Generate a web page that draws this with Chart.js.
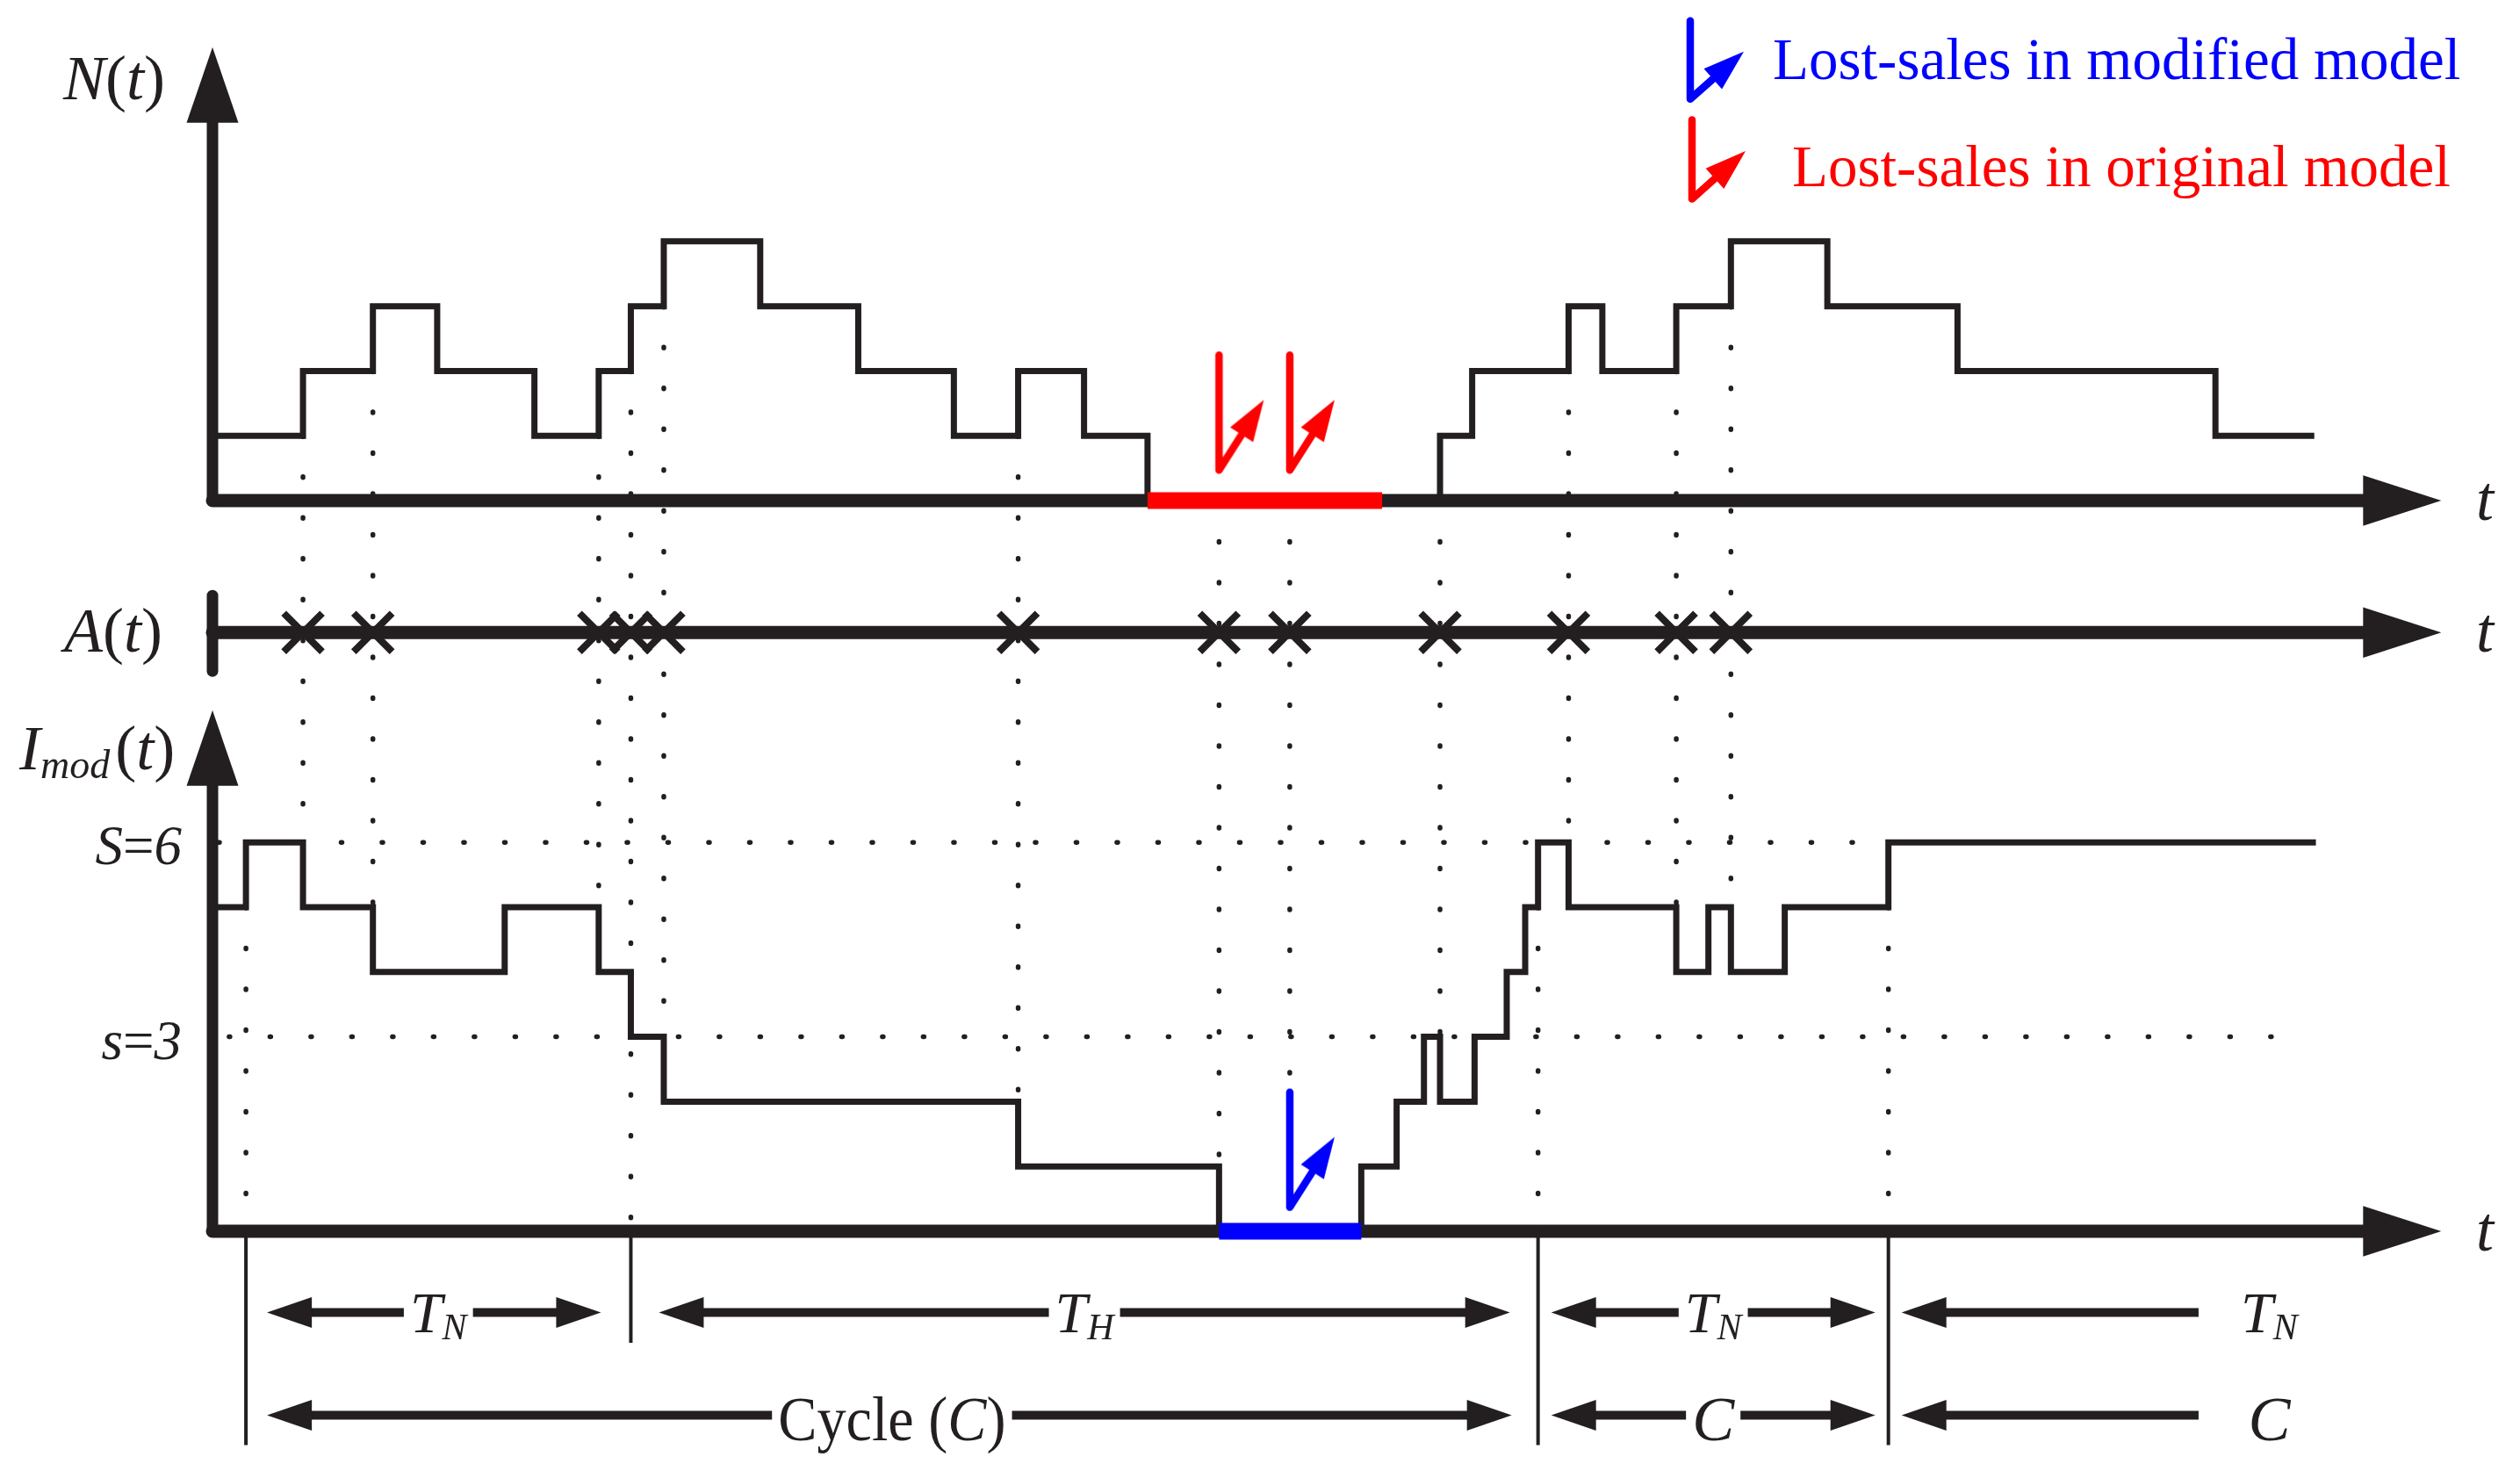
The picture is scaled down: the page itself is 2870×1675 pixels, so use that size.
<!DOCTYPE html>
<html>
<head>
<meta charset="utf-8">
<script src="https://cdn.jsdelivr.net/npm/chart.js@4.4.1/dist/chart.umd.min.js"></script>
<style>
  html, body { margin: 0; padding: 0; background: #fff; }
  #wrap { width: 2870px; height: 1675px; position: relative; }
</style>
</head>
<body>
<div id="wrap"><canvas id="diagrama"></canvas></div>
<script>
// N(t): instantes de cambio y nivel nuevo
const nTimes = [0, 5.85, 10.2, 14.2, 20.25, 24.25, 26.25, 28.3, 34.3, 40.4, 46.35, 50.35, 54.45, 58.4, 76.6, 78.6, 84.6, 86.7, 91.3, 94.7, 100.7, 108.8, 124.85, 131.0];
const nLevels = [1, 2, 3, 2, 1, 2, 3, 4, 3, 2, 1, 2, 1, 0, 1, 2, 3, 2, 3, 4, 3, 2, 1, 1];

// A(t): llegadas de demanda
const arrivals = [5.85, 10.2, 24.25, 26.25, 28.3, 50.35, 62.85, 67.25, 76.6, 84.6, 91.3, 94.7];

// I_mod(t): inventario del modelo modificado
const iTimes = [0, 2.3, 5.85, 10.2, 18.4, 24.25, 26.25, 28.3, 50.35, 62.85, 71.7, 73.9, 75.6, 76.6, 78.75, 80.75, 81.9, 82.7, 84.6, 91.3, 93.3, 94.7, 98.05, 104.5, 131.1];
const iLevels = [5, 6, 5, 4, 5, 4, 3, 2, 1, 0, 1, 2, 3, 2, 3, 4, 5, 6, 5, 4, 5, 4, 5, 6, 6];

// ventas perdidas y periodos sin stock
const lostOriginal = [62.85, 67.25];
const lostModified = [67.25];
const stockoutOrig = [58.4, 73.0];
const stockoutMod = [62.85, 71.7];

// politica (s, S) y limites de ciclo
const sLevel = 3;
const SLevel = 6;
const cycleBounds = [2.3, 82.7, 104.5];
const phaseBounds = [26.25];
const phaseSubs = ['N', 'H', 'N', 'N'];

// colocacion de los paneles (unidades del eje y)
const N_BASE = 11.275;
const A_BASE = 9.24;
const ROW_T = -1.253;
const ROW_C = -2.84;

const INK = '#231f20';
const RED = '#ff0000';
const BLUE = '#0000ff';
const SERIF = '"Liberation Serif", "Times New Roman", serif';

function levelBefore(times, levels, t) {
    let lv = levels[0];
    for (let i = 0; i < times.length; i++) {
        if (times[i] < t - 1e-9) lv = levels[i];
    }
    return lv;
}

// icono de venta perdida (linea vertical + flecha)
function drawLostIcon(ctx, cx, cy, color, vLen, dx, dy) {
    const lw = 8.5, headLen = 47, halfW = 15.5;
    const len = Math.hypot(dx, dy), ux = dx / len, uy = dy / len, nx = -uy, ny = ux;
    const tx = cx + dx, ty = cy + dy;
    const bx = tx - ux * headLen, by = ty - uy * headLen;
    ctx.save();
    ctx.strokeStyle = color;
    ctx.fillStyle = color;
    ctx.lineWidth = lw;
    ctx.lineCap = 'round';
    ctx.lineJoin = 'round';
    ctx.beginPath();
    ctx.moveTo(cx, cy - vLen);
    ctx.lineTo(cx, cy);
    ctx.lineTo(bx + ux * 6, by + uy * 6);
    ctx.stroke();
    ctx.beginPath();
    ctx.moveTo(tx, ty);
    ctx.lineTo(bx + nx * halfW, by + ny * halfW);
    ctx.lineTo(bx - nx * halfW, by - ny * halfW);
    ctx.closePath();
    ctx.fill();
    ctx.restore();
}

function makeLostIcon(color) {
    const c = document.createElement('canvas');
    c.width = 180;
    c.height = 290;
    drawLostIcon(c.getContext('2d'), 90, 145, color, 131, 51, -80);
    return c;
}

function richWidth(ctx, parts) {
    let w = 0;
    parts.forEach(p => {
        ctx.font = p.f;
        w += ctx.measureText(p.t).width * (p.sx || 1) + (p.gap || 0);
    });
    return w;
}

function drawRich(ctx, x, base, parts) {
    parts.forEach(p => {
        ctx.font = p.f;
        const w = ctx.measureText(p.t).width * (p.sx || 1);
        ctx.save();
        ctx.translate(x, base + (p.dy || 0));
        ctx.scale(p.sx || 1, 1);
        ctx.fillText(p.t, 0, 0);
        ctx.restore();
        x += w + (p.gap || 0);
    });
    return x;
}

function triangle(ctx, tipX, tipY, baseX, baseY, half) {
    const len = Math.hypot(tipX - baseX, tipY - baseY);
    const nx = -(tipY - baseY) / len, ny = (tipX - baseX) / len;
    ctx.beginPath();
    ctx.moveTo(tipX, tipY);
    ctx.lineTo(baseX + nx * half, baseY + ny * half);
    ctx.lineTo(baseX - nx * half, baseY - ny * half);
    ctx.closePath();
    ctx.fill();
}

document.addEventListener('DOMContentLoaded', () => {
    const canvas = document.getElementById('diagrama');
    const ctx = canvas.getContext('2d');
    if (!ctx) {
        console.error('No se pudo obtener el contexto del canvas');
        return;
    }

    const it = s => 'italic ' + s + 'px ' + SERIF;
    const up = s => s + 'px ' + SERIF;

    // lineas guia punteadas: de N(t) a I(t) en cada llegada
    const blueTop = 0.37 + 131 / 73.79;
    const guidePts = [];
    arrivals.forEach(t => {
        const nl = levelBefore(nTimes, nLevels, t);
        const il = levelBefore(iTimes, iLevels, t);
        guidePts.push({ x: t, y: N_BASE + nl }, { x: t, y: il > 0 ? il : blueTop }, { x: t, y: null });
    });
    cycleBounds.concat(phaseBounds).forEach(t => {
        guidePts.push({ x: t, y: levelBefore(iTimes, iLevels, t) }, { x: t, y: 0 }, { x: t, y: null });
    });

    // limites solidos bajo el eje
    const boundPts = [];
    cycleBounds.forEach(t => boundPts.push({ x: t, y: 0 }, { x: t, y: -3.3 }, { x: t, y: null }));
    phaseBounds.forEach(t => boundPts.push({ x: t, y: 0 }, { x: t, y: -1.72 }, { x: t, y: null }));

    const dotted = { borderColor: INK, borderWidth: 5.5, borderDash: [1, 45.5], borderCapStyle: 'round', pointRadius: 0, order: 10 };

    const datasets = [
        Object.assign({ label: 'guias', data: guidePts }, dotted),
        Object.assign({ label: 'S', data: [{ x: 0.6, y: SLevel }, { x: cycleBounds[2], y: SLevel }] }, dotted),
        Object.assign({ label: 's', data: [{ x: 1.25, y: sLevel }, { x: 129, y: sLevel }] }, dotted),
        { label: 'limites', data: boundPts, borderColor: INK, borderWidth: 4, pointRadius: 0, order: 9 },
        {
            label: 'N(t)', data: nTimes.map((t, i) => ({ x: t, y: N_BASE + nLevels[i] })),
            stepped: true, borderColor: INK, borderWidth: 7, borderJoinStyle: 'miter', pointRadius: 0, order: 5
        },
        {
            label: 'I(t)', data: iTimes.map((t, i) => ({ x: t, y: iLevels[i] })),
            stepped: true, borderColor: INK, borderWidth: 7, borderJoinStyle: 'miter', pointRadius: 0, order: 5
        },
        { label: 'sin stock original', data: stockoutOrig.map(t => ({ x: t, y: N_BASE })), borderColor: RED, borderWidth: 19, pointRadius: 0, order: 4 },
        { label: 'sin stock modificado', data: stockoutMod.map(t => ({ x: t, y: 0 })), borderColor: BLUE, borderWidth: 19, pointRadius: 0, order: 4 },
        {
            label: 'A(t)', data: arrivals.map(t => ({ x: t, y: A_BASE })), showLine: false,
            pointStyle: 'crossRot', pointRadius: 31, pointBorderWidth: 8, pointBorderColor: INK, pointBackgroundColor: INK, order: 3
        },
        {
            label: 'perdidas original', data: lostOriginal.map(t => ({ x: t, y: N_BASE + 0.47 })), showLine: false,
            pointStyle: makeLostIcon(RED), pointRadius: 10, order: 2
        },
        {
            label: 'perdidas modificado', data: lostModified.map(t => ({ x: t, y: 0.37 })), showLine: false,
            pointStyle: makeLostIcon(BLUE), pointRadius: 10, order: 2
        }
    ];

    const diagramPlugin = {
        id: 'diagrama',
        beforeDatasetsDraw(chart) {
            const c = chart.ctx;
            const x = chart.scales.x, y = chart.scales.y;
            const x0 = x.getPixelForValue(0) + 4;
            const xTip = x.getPixelForValue(138.9);
            c.save();
            c.strokeStyle = INK;
            c.fillStyle = INK;
            // ejes horizontales con flecha
            [N_BASE, A_BASE, 0].forEach(v => {
                const yy = y.getPixelForValue(v);
                c.lineWidth = 15;
                c.lineCap = 'round';
                c.beginPath();
                c.moveTo(x0, yy);
                c.lineTo(xTip - 80, yy);
                c.stroke();
                triangle(c, xTip, yy, xTip - 89, yy, 28.7);
            });
            // ejes verticales
            [[N_BASE, 18.27], [0, 8.04]].forEach(([b, top]) => {
                const yb = y.getPixelForValue(b), yt = y.getPixelForValue(top);
                c.lineWidth = 13;
                c.beginPath();
                c.moveTo(x0, yb);
                c.lineTo(x0, yt + 80);
                c.stroke();
                triangle(c, x0, yt, x0, yt + 86, 29.5);
            });
            // marca izquierda de A(t)
            const ya = y.getPixelForValue(A_BASE);
            c.lineWidth = 13;
            c.beginPath();
            c.moveTo(x0, ya - 42);
            c.lineTo(x0, ya + 44);
            c.stroke();
            c.restore();
        },
        afterDatasetsDraw(chart) {
            const c = chart.ctx;
            const x = chart.scales.x, y = chart.scales.y;
            c.save();
            c.fillStyle = INK;
            c.strokeStyle = INK;
            c.textBaseline = 'alphabetic';
            c.textAlign = 'left';

            // etiquetas de los ejes
            drawRich(c, 72, 113, [{ t: 'N', f: it(72) }, { t: '(', f: up(72) }, { t: 't', f: it(72) }, { t: ')', f: up(72) }]);
            drawRich(c, 73, 742, [{ t: 'A', f: it(72) }, { t: '(', f: up(72) }, { t: 't', f: it(72) }, { t: ')', f: up(72) }]);
            drawRich(c, 22, 876, [{ t: 'I', f: it(72) }, { t: 'mod', f: it(46), dy: 10, gap: 6 }, { t: '(', f: up(72) }, { t: 't', f: it(72) }, { t: ')', f: up(72) }]);
            [[SLevel, 'S', String(SLevel)], [sLevel, 's', String(sLevel)]].forEach(([v, a, b]) => {
                const parts = [{ t: a, f: it(63) }, { t: '=', f: up(63) }, { t: b, f: it(63) }];
                drawRich(c, 207 - richWidth(c, parts), y.getPixelForValue(v) + 25, parts);
            });
            [N_BASE, A_BASE, 0].forEach(v => {
                c.font = it(72);
                c.fillText('t', 2820, y.getPixelForValue(v) + 22);
            });

            // leyenda
            drawLostIcon(c, 1925, 112.8, BLUE, 89, 61, -54);
            drawLostIcon(c, 1927, 226.6, RED, 90, 61, -54.6);
            c.font = up(67);
            c.fillStyle = BLUE;
            c.fillText('Lost-sales in modified model', 2019, 90);
            c.fillStyle = RED;
            c.fillText('Lost-sales in original model', 2041, 211.5);
            c.fillStyle = INK;

            // flechas de duracion (T_N, T_H, ciclo)
            const allB = cycleBounds.concat(phaseBounds).sort((a, b) => a - b);
            const openEnd = 123.8, openLabel = 128.2;
            const spanArrow = (ta, tb, v, parts, labelT) => {
                const yy = y.getPixelForValue(v);
                const inset = ta < 20 ? 30 : (ta < 80 ? 32 : 15);
                const xa = x.getPixelForValue(ta) + (ta < 20 ? 24 : inset);
                const rightHead = tb !== null;
                const xb = rightHead ? x.getPixelForValue(tb) - (tb < 80 ? 34 : inset) : x.getPixelForValue(openEnd);
                c.lineWidth = 10;
                c.lineCap = 'butt';
                c.beginPath();
                c.moveTo(xa + 45, yy);
                c.lineTo(rightHead ? xb - 45 : xb, yy);
                c.stroke();
                triangle(c, xa, yy, xa + 51, yy, 17.5);
                if (rightHead) triangle(c, xb, yy, xb - 51, yy, 17.5);
                const cx = labelT !== undefined ? x.getPixelForValue(labelT) : (x.getPixelForValue(ta) + x.getPixelForValue(tb)) / 2;
                const w = richWidth(c, parts);
                c.fillStyle = '#fff';
                c.fillRect(cx - w / 2 - 7, yy - 8, w + 14, 16);
                c.fillStyle = INK;
                return [cx - w / 2, yy];
            };
            for (let i = 0; i < allB.length; i++) {
                const tb = i + 1 < allB.length ? allB[i + 1] : null;
                const parts = [{ t: 'T', f: it(66) }, { t: phaseSubs[i], f: it(42), dy: 8 }];
                const [lx, yy] = spanArrow(allB[i], tb, ROW_T, parts, tb === null ? openLabel : undefined);
                drawRich(c, lx, yy + 22.5, parts);
            }
            for (let i = 0; i < cycleBounds.length; i++) {
                const tb = i + 1 < cycleBounds.length ? cycleBounds[i + 1] : null;
                const parts = i === 0
                    ? [{ t: 'Cycle (', f: up(72), sx: 0.92 }, { t: 'C', f: it(72), sx: 0.92 }, { t: ')', f: up(72), sx: 0.92 }]
                    : [{ t: 'C', f: it(72) }];
                const [lx, yy] = spanArrow(cycleBounds[i], tb, ROW_C, parts, tb === null ? openLabel : undefined);
                drawRich(c, lx, yy + 28.5, parts);
            }
            c.restore();
        }
    };

    new Chart(ctx, {
        type: 'line',
        data: { datasets: datasets },
        options: {
            responsive: true,
            maintainAspectRatio: false,
            animation: false,
            devicePixelRatio: 1,
            layout: { autoPadding: false, padding: { left: 238, right: 0, top: 0, bottom: 0 } },
            scales: {
                x: { type: 'linear', min: 0, max: 143.8, display: false },
                y: { type: 'linear', min: -3.7, max: 19, display: false }
            },
            plugins: { legend: { display: false }, tooltip: { enabled: false } }
        },
        plugins: [diagramPlugin]
    });
});
</script>
</body>
</html>
